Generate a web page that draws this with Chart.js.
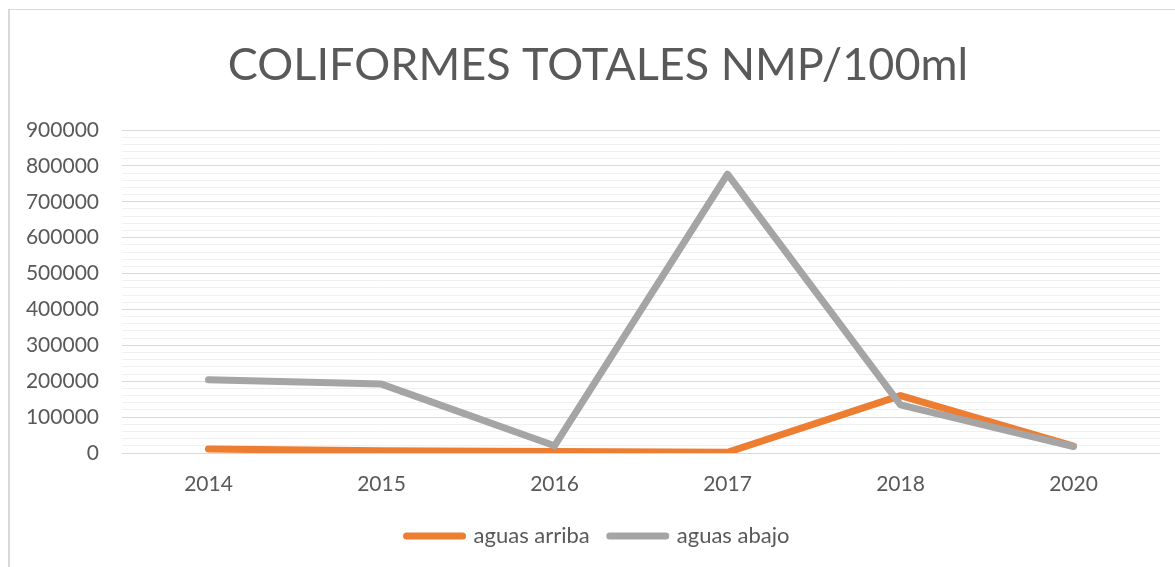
<!DOCTYPE html>
<html>
<head>
<meta charset="utf-8">
<title>Coliformes totales</title>
<script src="https://cdn.jsdelivr.net/npm/chart.js@4.4.1/dist/chart.umd.min.js"></script>
<style>
  html, body { margin: 0; padding: 0; background: #fff; overflow: hidden; }
  #marco {
    position: absolute; left: 8px; top: 9px;
    width: 1176px; height: 558px;
    border-left: 2px solid #d9d9d9; border-top: 1px solid #d9d9d9;
  }
</style>
</head>
<body>
<div id="marco"><canvas id="chartColiformes" width="1176" height="558"></canvas></div>
<script>
// Coliformes totales (NMP/100ml) por año
const anios = ["2014", "2015", "2016", "2017", "2018", "2020"];
const aguasArriba = [11000, 6000, 4000, 2000, 160000, 19000];
const aguasAbajo = [204000, 192000, 20000, 777000, 134000, 18000];
const ejeMax = 900000;
const pasoMayor = 100000;
const pasoMenor = 20000;

const gris = "#595959";
const fuente = "Lato, 'Open Sans', sans-serif";

new Chart(document.getElementById("chartColiformes"), {
  type: "line",
  data: {
    labels: anios,
    datasets: [
      {
        label: "aguas arriba",
        data: aguasArriba,
        borderColor: "#ED7D31",
        backgroundColor: "#ED7D31",
        borderWidth: 7,
        borderCapStyle: "round",
        borderJoinStyle: "round",
        pointRadius: 0,
        pointStyle: "line",
        tension: 0,
        order: 2
      },
      {
        label: "aguas abajo",
        data: aguasAbajo,
        borderColor: "#A5A5A5",
        backgroundColor: "#A5A5A5",
        borderWidth: 7,
        borderCapStyle: "round",
        borderJoinStyle: "round",
        pointRadius: 0,
        pointStyle: "line",
        tension: 0,
        order: 1
      }
    ]
  },
  options: {
    responsive: false,
    animation: false,
    layout: { padding: { left: 0, right: 0, top: 0, bottom: 11 } },
    plugins: {
      title: {
        display: true,
        text: "COLIFORMES TOTALES NMP/100ml",
        color: gris,
        font: { family: fuente, size: 45, weight: "normal" },
        padding: { top: 28, bottom: 38 }
      },
      legend: {
        position: "bottom",
        labels: {
          color: gris,
          font: { family: fuente, size: 22 },
          usePointStyle: true,
          pointStyleWidth: 56,
          padding: 20,
          sort: (a, b) => a.datasetIndex - b.datasetIndex,
          // lineas de la leyenda con extremos redondeados
          generateLabels: chart =>
            Chart.defaults.plugins.legend.labels.generateLabels(chart)
              .map(item => Object.assign(item, { lineCap: "round" }))
        }
      },
      tooltip: { enabled: false }
    },
    scales: {
      x: {
        offset: true,
        grid: { display: false, drawTicks: false },
        border: { display: false },
        ticks: { color: gris, font: { family: fuente, size: 21 }, padding: 19 },
        afterFit: scale => { scale.height = 52; }
      },
      y: {
        min: 0,
        max: ejeMax,
        border: { display: false },
        grid: {
          drawTicks: false,
          color: ctx => (ctx.tick.value % pasoMayor === 0 ? "#d9d9d9" : "#f0f0f0"),
          lineWidth: 1
        },
        ticks: {
          stepSize: pasoMenor,
          autoSkip: false,
          padding: 23,
          color: gris,
          font: { family: fuente, size: 21 },
          callback: v => (v % pasoMayor === 0 ? String(v) : "")
        },
        afterFit: scale => { scale.width = 112; }
      },
      // margen derecho del area de trazado, sin dibujar nada
      margen: {
        position: "right",
        min: 0,
        max: 1,
        grid: { display: false, drawTicks: false },
        border: { display: false },
        ticks: { display: false },
        afterFit: scale => { scale.width = 26; }
      }
    }
  }
});
</script>
</body>
</html>
